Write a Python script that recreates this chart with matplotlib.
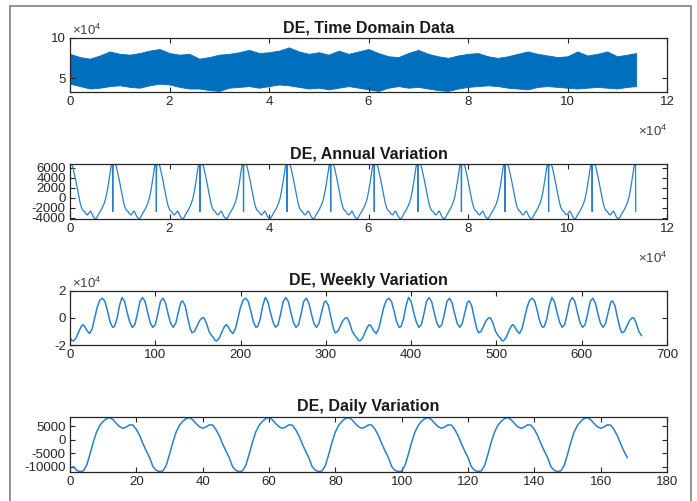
import numpy as np
import matplotlib
matplotlib.use("Agg")
import matplotlib.pyplot as plt
from matplotlib.patches import Rectangle

plt.rcParams['font.family'] = ['Liberation Sans', 'DejaVu Sans']
plt.rcParams['axes.unicode_minus'] = False
plt.rcParams['mathtext.fontset'] = 'custom'
plt.rcParams['mathtext.rm'] = 'Liberation Sans'
plt.rcParams['mathtext.it'] = 'Liberation Sans'

FILL = '#0070BE'
LINE = '#2a80cc'
AXC = '#262626'

# --- time domain: upper / lower envelope of the hourly load (x1e4 MW)
td_x = [0, 0.2, 0.4, 0.6, 0.8, 1.0, 1.2, 1.4, 1.6, 1.8, 2.0, 2.2, 2.4, 2.6, 2.8, 3.0,
        3.2, 3.4, 3.6, 3.8, 4.0, 4.2, 4.4, 4.6, 4.8, 5.0, 5.2, 5.4, 5.6, 5.8, 6.0, 6.2,
        6.4, 6.6, 6.8, 7.0, 7.2, 7.4, 7.6, 7.8, 8.0, 8.2, 8.4, 8.6, 8.8, 9.0, 9.2, 9.4,
        9.6, 9.8, 10.0, 10.2, 10.4, 10.6, 10.8, 11.0, 11.2, 11.38]
td_hi = [8.0, 7.6, 7.4, 7.8, 8.3, 8.0, 7.9, 8.1, 8.4, 8.6, 8.1, 7.9, 8.0, 7.4, 7.6, 7.9,
         8.0, 8.2, 8.5, 8.1, 8.2, 8.4, 8.8, 8.3, 8.0, 8.2, 7.9, 8.4, 8.0, 8.3, 8.6, 8.1,
         7.7, 7.6, 8.1, 8.5, 8.0, 7.7, 7.5, 7.8, 8.0, 8.1, 7.7, 7.5, 7.7, 8.0, 8.3, 8.0,
         7.8, 7.6, 7.7, 8.3, 7.8, 8.0, 8.3, 7.7, 7.9, 8.1]
td_lo = [4.3, 4.0, 3.7, 3.8, 4.0, 4.1, 3.9, 3.8, 4.1, 4.3, 4.2, 3.9, 3.7, 3.7, 3.5, 3.4,
         3.8, 3.9, 4.0, 3.8, 4.0, 4.2, 4.1, 3.9, 3.7, 3.8, 3.6, 3.8, 4.0, 3.8, 3.6, 3.4,
         3.8, 4.0, 3.8, 3.9, 3.7, 3.5, 3.4, 3.7, 3.9, 4.0, 4.1, 4.0, 3.8, 3.7, 3.6, 3.9,
         4.0, 3.9, 3.8, 3.7, 3.8, 3.9, 3.8, 3.7, 3.9, 4.0]

# --- annual component: one year of the profile (hour of year, MW), repeats every 8760 h
yr_h = [0, 300, 550, 800, 1100, 1400, 1700, 2000, 2300, 2600, 2900, 3200, 3500, 3800,
        4100, 4350, 4600, 4900, 5150, 5400, 5700, 6000, 6300, 6600, 6900, 7200, 7500,
        7800, 8050, 8250, 8400, 8550, 8600, 8650]
yr_v = [6700, 6800, 6300, 5200, 3800, 2300, 800, -800, -1900, -2500, -2700, -3200, -3400,
        -3000, -2600, -3000, -3600, -4000, -4200, -3900, -3300, -2800, -2300, -1700, -1000,
        0, 1500, 3300, 5000, 6300, 6800, 6600, -2700, 6700]
n_years = 13
annual_end = 113720

# --- weekly component (hour of week, x1e4 MW), repeats every 168 h
wk_h = [0, 2, 4, 7, 10, 13, 15, 17, 20, 23, 26, 29, 32, 35, 38, 41, 44, 47, 50, 52, 55, 58,
        61, 64, 67, 70, 73, 76, 79, 82, 85, 88, 91, 94, 97, 100, 103, 106, 109, 112, 115,
        118, 121, 124, 127, 130, 132, 135, 138, 141, 143, 146, 149, 152, 155, 157, 160,
        163, 166]
wk_v = [-1.45, -1.65, -1.7, -1.5, -1.05, -0.65, -0.5, -0.6, -0.95, -1.15, -0.8, 0.0, 0.8,
        1.3, 1.45, 1.2, 0.5, -0.3, -0.7, -0.65, -0.1, 0.9, 1.5, 1.2, 0.4, -0.3, -0.7, -0.5,
        0.3, 1.2, 1.5, 1.2, 0.4, -0.35, -0.7, -0.5, 0.3, 1.2, 1.45, 1.1, 0.3, -0.4, -0.7,
        -0.4, 0.4, 1.15, 1.25, 0.9, 0.0, -0.8, -1.1, -1.0, -0.6, -0.2, 0.0, 0.0, -0.4, -1.0,
        -1.3]
n_weeks = 4

# --- daily component (hour 1..24, MW), repeats every 24 h
day_h = list(range(1, 25))
day_v = [-10000, -11400, -11850, -11600, -9600, -5500, -1000, 2800, 5300, 6800, 7800, 8200,
         7400, 6000, 4800, 4200, 4700, 5500, 5400, 3800, 1500, -1500, -4200, -6650]
n_days = 7


def repeat(h, v, period, n):
    x = np.concatenate([np.asarray(h) + k * period for k in range(n)])
    y = np.tile(np.asarray(v, dtype=float), n)
    return x, y


fig = plt.figure(figsize=(6.97, 5.01), dpi=100)
W, H = 697.0, 501.0


def make_axes(top, bottom):
    ax = fig.add_axes([70 / W, 1 - bottom / H, (667 - 70) / W, (bottom - top) / H])
    for s in ax.spines.values():
        s.set_color(AXC)
        s.set_linewidth(0.9)
    ax.tick_params(direction='in', top=True, right=True, length=3.5, width=0.8,
                   colors=AXC, labelsize=9.5, pad=3)
    return ax


def title(ax, s):
    ax.set_title(s, fontsize=11.5, fontweight='bold', color='#1a1a1a', pad=4)


def exponent(ax, xy, ha):
    ax.text(xy[0], xy[1], r'$\times10^{4}$', transform=ax.transAxes, ha=ha,
            va='bottom', fontsize=9.5, color='#404040')


# Time domain data
ax1 = make_axes(37.7, 92)
ax1.fill_between(np.array(td_x) * 1e4, np.array(td_lo) * 1e4, np.array(td_hi) * 1e4,
                 color=FILL, lw=0.6, edgecolor=FILL)
ax1.set_xlim(0, 120000)
ax1.set_ylim(32700, 100000)
ax1.set_xticks(np.arange(0, 120001, 20000))
ax1.set_xticklabels([str(v) for v in range(0, 13, 2)])
ax1.set_yticks([50000, 100000])
ax1.set_yticklabels(['5', '10'])
title(ax1, 'DE, Time Domain Data')
exponent(ax1, (0.003, 1.0), 'left')
exponent(ax1, (1.0, -0.86), 'right')

# Annual variation
ax2 = make_axes(164, 219)
ax_x, ax_y = repeat(yr_h, yr_v, 8760, n_years)
keep = ax_x <= annual_end
ax2.plot(ax_x[keep], ax_y[keep], color=LINE, lw=0.9)
ax2.set_xlim(0, 120000)
ax2.set_ylim(-4200, 6800)
ax2.set_xticks(np.arange(0, 120001, 20000))
ax2.set_xticklabels([str(v) for v in range(0, 13, 2)])
ax2.set_yticks(np.arange(-4000, 6001, 2000))
title(ax2, 'DE, Annual Variation')
exponent(ax2, (1.0, -0.86), 'right')

# Weekly variation
ax3 = make_axes(290.7, 345)
wx, wy = repeat(wk_h, wk_v, 168, n_weeks)
ax3.plot(wx, wy * 1e4, color=LINE, lw=1.1)
ax3.set_xlim(0, 700)
ax3.set_ylim(-20000, 20000)
ax3.set_xticks(np.arange(0, 701, 100))
ax3.set_yticks([-20000, 0, 20000])
ax3.set_yticklabels(['-2', '0', '2'])
title(ax3, 'DE, Weekly Variation')
exponent(ax3, (0.003, 1.0), 'left')

# Daily variation
ax4 = make_axes(417, 471.7)
dx, dy = repeat(day_h, day_v, 24, n_days)
ax4.plot(dx, dy, color=LINE, lw=1.1)
ax4.set_xlim(0, 180)
ax4.set_ylim(-11900, 8400)
ax4.set_xticks(np.arange(0, 181, 20))
ax4.set_yticks([-10000, -5000, 0, 5000])
title(ax4, 'DE, Daily Variation')

# grey frame round the figure
fig.patches.append(Rectangle((10 / W, -0.05), (691 - 10) / W, 1 - 6 / H + 0.05,
                             transform=fig.transFigure, fill=False,
                             ec='#808080', lw=1.2))

fig.savefig('out.png', dpi=100)
